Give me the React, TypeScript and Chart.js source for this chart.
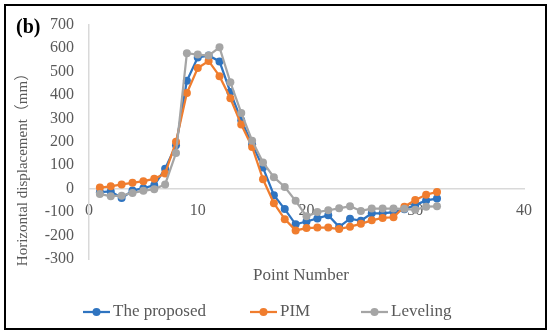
import React, { useEffect, useRef } from "react";
import { Chart, registerables } from "chart.js";

Chart.register(...registerables);

// ---- Data ----
const pointNumbers = [1, 2, 3, 4, 5, 6, 7, 8, 9, 10, 11, 12, 13, 14, 15, 16, 17, 18, 19, 20, 21, 22, 23, 24, 25, 26, 27, 28, 29, 30, 31, 32];
const proposed = [-15, -12, -40, -8, 2, 15, 85, 185, 460, 560, 568, 543, 412, 292, 190, 90, -28, -87, -152, -140, -127, -113, -163, -128, -137, -105, -105, -100, -88, -70, -50, -42];
const pim = [5, 10, 18, 25, 32, 42, 65, 200, 408, 515, 545, 480, 386, 274, 178, 40, -62, -130, -178, -168, -166, -166, -172, -162, -150, -135, -125, -122, -77, -48, -26, -14];
const leveling = [-23, -32, -30, -18, -9, -2, 18, 152, 578, 572, 568, 603, 454, 323, 205, 112, 49, 7, -52, -118, -100, -92, -84, -75, -95, -85, -85, -85, -86, -90, -77, -75];

const seriesNames = ["The proposed", "PIM", "Leveling"];
const seriesColors = ["#2F74C0", "#F07D2E", "#A5A5A5"];

const xMin = 0;
const xMax = 40;
const xStep = 10;
const yMin = -300;
const yMax = 700;
const yStep = 100;

const xTitle = "Point Number";
const yTitle = "Horizontal displacement（mm）";
const panelLabel = "(b)";

const FONT = "'Liberation Serif', 'Times New Roman', 'Noto Sans CJK SC', serif";
const TEXT_COLOR = "#595959";

const decorPlugin = {
  id: "decor",
  afterDraw(chart: any) {
    const ctx = chart.ctx as CanvasRenderingContext2D;
    ctx.save();
    // frame
    ctx.strokeStyle = "#000";
    ctx.lineWidth = 2;
    ctx.strokeRect(5, 5, 541, 324);

    // panel label
    ctx.fillStyle = "#000";
    ctx.font = `bold 20px ${FONT}`;
    ctx.textAlign = "left";
    ctx.textBaseline = "middle";
    ctx.fillText(panelLabel, 16, 28);

    // y title
    ctx.save();
    ctx.translate(23, 166);
    ctx.rotate(-Math.PI / 2);
    ctx.fillStyle = TEXT_COLOR;
    ctx.font = `15px ${FONT}`;
    ctx.textAlign = "center";
    ctx.textBaseline = "middle";
    ctx.fillText(yTitle, 0, 0);
    ctx.restore();

    // x title
    ctx.fillStyle = TEXT_COLOR;
    ctx.font = `17px ${FONT}`;
    ctx.textAlign = "center";
    ctx.textBaseline = "middle";
    ctx.fillText(xTitle, 301, 276);

    // legend
    const legendX = [83, 250, 361];
    const ly = 312;
    ctx.font = `17px ${FONT}`;
    ctx.textAlign = "left";
    seriesNames.forEach((name, i) => {
      const x0 = legendX[i];
      ctx.strokeStyle = seriesColors[i];
      ctx.lineWidth = 2.25;
      ctx.beginPath();
      ctx.moveTo(x0, ly);
      ctx.lineTo(x0 + 27, ly);
      ctx.stroke();
      ctx.fillStyle = seriesColors[i];
      ctx.beginPath();
      ctx.arc(x0 + 13.5, ly, 4, 0, Math.PI * 2);
      ctx.fill();
      ctx.fillStyle = TEXT_COLOR;
      ctx.fillText(name, x0 + 30, ly);
    });
    ctx.restore();
  },
};

export default function App() {
  const canvasRef = useRef<HTMLCanvasElement | null>(null);

  useEffect(() => {
    if (!canvasRef.current) return;
    const allSeries = [proposed, pim, leveling];
    const orders = [2, 1, 0];
    const chart = new Chart(canvasRef.current, {
      type: "scatter",
      data: {
        datasets: allSeries.map((vals, i) => ({
          label: seriesNames[i],
          data: pointNumbers.map((x, k) => ({ x, y: vals[k] })),
          showLine: true,
          borderColor: seriesColors[i],
          backgroundColor: seriesColors[i],
          pointBackgroundColor: seriesColors[i],
          pointBorderColor: seriesColors[i],
          borderWidth: 2.25,
          pointRadius: 4,
          pointBorderWidth: 0,
          order: orders[i],
        })),
      },
      options: {
        animation: false,
        responsive: false,
        maintainAspectRatio: false,
        layout: { padding: { left: 39, right: 26, top: 24, bottom: 76 } },
        plugins: {
          legend: { display: false },
          tooltip: { enabled: false },
        },
        scales: {
          x: {
            type: "linear",
            position: { y: 0 } as any,
            min: xMin,
            max: xMax,
            ticks: {
              stepSize: xStep,
              color: TEXT_COLOR,
              font: { family: FONT, size: 16 },
              padding: 13,
              maxRotation: 0,
            },
            grid: { display: false, drawTicks: false },
            border: { display: true, color: "#D9D9D9", width: 1.5 },
          },
          y: {
            type: "linear",
            position: "left",
            min: yMin,
            max: yMax,
            ticks: {
              stepSize: yStep,
              color: TEXT_COLOR,
              font: { family: FONT, size: 16 },
              padding: 15,
            },
            grid: { display: false, drawTicks: false },
            border: { display: true, color: "#D9D9D9", width: 1.5 },
            afterFit: (scale: any) => {
              scale.width = 50;
            },
          },
        },
      },
      plugins: [decorPlugin],
    });
    return () => chart.destroy();
  }, []);

  return (
    <div style={{ position: "fixed", left: 0, top: 0, width: 550, height: 335, background: "#fff" }}>
      <canvas ref={canvasRef} width={550} height={335} style={{ width: 550, height: 335, display: "block" }} />
    </div>
  );
}
